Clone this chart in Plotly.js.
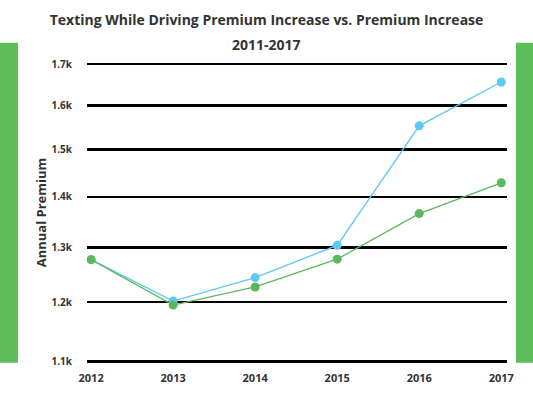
<!DOCTYPE html>
<html>
<head>
<meta charset="utf-8">
<script src="https://cdn.plot.ly/plotly-3.0.1.min.js"></script>
<style>html,body{margin:0;padding:0;background:#fff;}#chart{width:533px;height:395px;}</style>
</head>
<body>
<div id="chart"></div>
<script>
var years = [2012, 2013, 2014, 2015, 2016, 2017];
var textingPremium = [1277, 1202, 1244, 1304, 1553, 1656];
var premium = [1277, 1195, 1227, 1278, 1366, 1429];
var yTickVals = [1100, 1200, 1300, 1400, 1500, 1600, 1700];
var yTickText = ['1.1k', '1.2k', '1.3k', '1.4k', '1.5k', '1.6k', '1.7k'];
var titleText = 'Texting While Driving Premium Increase vs. Premium Increase';
var subtitleText = '2011-2017';

var fontFam = '"Open Sans", "DejaVu Sans", sans-serif';

var traces = [
  {
    x: years, y: textingPremium, type: 'scatter', mode: 'lines+markers',
    name: 'Texting While Driving Premium',
    line: {color: '#5bc8f5', width: 1.3},
    marker: {color: '#5bc8f5', size: 9}
  },
  {
    x: years, y: premium, type: 'scatter', mode: 'lines+markers',
    name: 'Premium',
    line: {color: '#5cb85c', width: 1.3},
    marker: {color: '#5cb85c', size: 9}
  }
];

var layout = {
  width: 533, height: 395,
  margin: {l: 87, r: 26, t: 60, b: 30},
  paper_bgcolor: '#fff', plot_bgcolor: '#fff',
  showlegend: false,
  font: {family: fontFam, color: '#333'},
  title: {
    text: '<b>' + titleText + '</b>',
    font: {family: fontFam, size: 14, color: '#333'},
    x: 0.5, xref: 'container', xanchor: 'center',
    y: 1 - 20 / 395, yref: 'container', yanchor: 'middle'
  },
  annotations: [
    {text: '<b>' + subtitleText + '</b>', xref: 'paper', yref: 'paper',
     x: (266.5 - 87) / 420, y: (365 - 44) / 305, xanchor: 'center', yanchor: 'middle',
     showarrow: false, font: {family: fontFam, size: 14, color: '#333'}}
  ],
  xaxis: {
    range: [2011.95, 2017.07],
    tickvals: years,
    ticktext: years.map(String),
    showgrid: false, zeroline: false, showline: false,
    ticks: 'outside', ticklen: 3, tickcolor: 'rgba(0,0,0,0)',
    tickfont: {family: fontFam, size: 11, color: '#333', weight: 'bold'}
  },
  yaxis: {
    type: 'log',
    range: [3.0393, 3.2330],
    tickvals: yTickVals,
    ticktext: yTickText,
    showgrid: true, gridcolor: '#000', gridwidth: 2.5,
    zeroline: false, showline: false,
    ticks: 'outside', ticklen: 12, tickcolor: 'rgba(0,0,0,0)',
    tickfont: {family: fontFam, size: 10, color: '#333', weight: 'bold'},
    title: {text: '<b>Annual Premium</b>', font: {family: fontFam, size: 13, color: '#333'}, standoff: 1}
  },
  shapes: [
    {type: 'rect', xref: 'paper', yref: 'paper', x0: -0.2071, x1: -0.1643, y0: 0.0075, y1: 1.0567,
     fillcolor: '#5cbd5a', line: {width: 0}, layer: 'below'},
    {type: 'rect', xref: 'paper', yref: 'paper', x0: 1.0214, x1: 1.0619, y0: 0.0075, y1: 1.0567,
     fillcolor: '#5cbd5a', line: {width: 0}, layer: 'below'}
  ]
};

Plotly.newPlot('chart', traces, layout, {displayModeBar: false, staticPlot: true});
</script>
</body>
</html>
